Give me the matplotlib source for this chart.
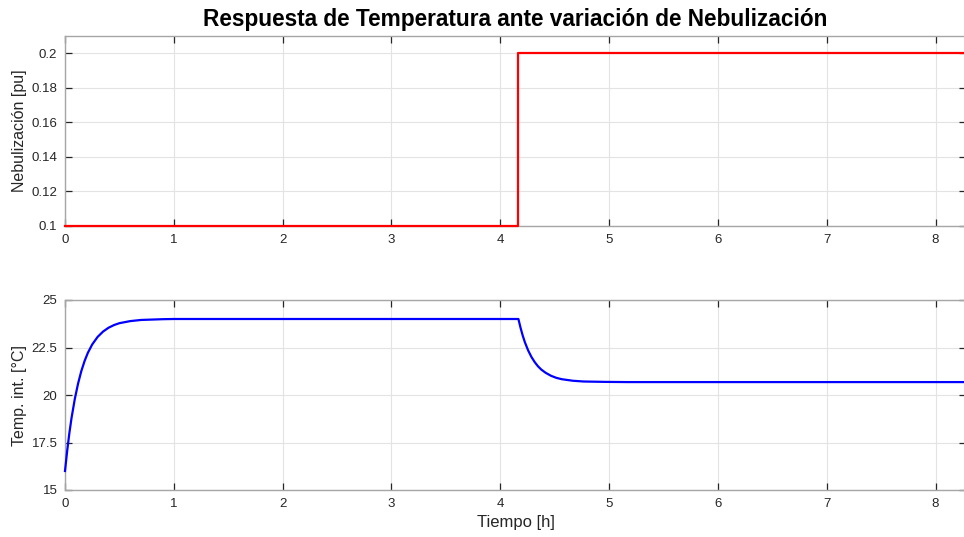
import matplotlib.pyplot as plt

plt.rcParams['font.family'] = ['Liberation Sans', 'DejaVu Sans']

# Nebulization setpoint [pu] vs time [h] (step at 250 min)
t_neb = [0.0, 4.1667, 8.3333]
neb = [0.1, 0.2, 0.2]

# Interior temperature [degC] vs time [h]
t_temp = [0.00, 0.02, 0.04, 0.06, 0.09, 0.12, 0.15, 0.18, 0.21, 0.25,
          0.30, 0.35, 0.40, 0.45, 0.50, 0.60, 0.70, 0.80, 0.90, 1.00,
          4.1667, 4.1867, 4.2067, 4.2267, 4.2567, 4.2867, 4.3167, 4.3467,
          4.3767, 4.4167, 4.4667, 4.5167, 4.5667, 4.6667, 4.7667, 4.8667,
          4.9667, 5.1667, 8.3333]
temp = [16.00, 17.06, 17.99, 18.79, 19.79, 20.60, 21.26, 21.79, 22.22, 22.66,
        23.06, 23.34, 23.54, 23.68, 23.78, 23.89, 23.95, 23.97, 23.99, 24.00,
        24.00, 23.53, 23.12, 22.77, 22.34, 22.00, 21.73, 21.51,
        21.34, 21.17, 21.01, 20.90, 20.83, 20.75, 20.71, 20.70,
        20.69, 20.68, 20.68]

x_ticks = list(range(0, 9))
neb_ticks = [0.1, 0.12, 0.14, 0.16, 0.18, 0.2]
neb_labels = ['0.1', '0.12', '0.14', '0.16', '0.18', '0.2']
temp_ticks = [15, 17.5, 20, 22.5, 25]
temp_labels = ['15', '17.5', '20', '22.5', '25']

X_MAX = 8.28
TXT = '#262626'


def style_axes(ax):
    for sp in ax.spines.values():
        sp.set_color('#a6a6a6')
        sp.set_linewidth(1.0)
    ax.tick_params(direction='in', length=5, width=0.9, color=TXT,
                   labelcolor=TXT, labelsize=9.5, top=True, right=True)
    ax.tick_params(axis='x', pad=6)
    ax.tick_params(axis='y', pad=5.5)
    ax.grid(True, color='#e3e3e3', linewidth=0.8)
    ax.set_axisbelow(True)
    ax.set_xlim(0, X_MAX)
    ax.set_xticks(x_ticks)


fig = plt.figure(figsize=(9.64, 5.37), dpi=100)
W, H = 964, 537
left = 65 / W
width = 901 / W

ax1 = fig.add_axes([left, 1 - 226 / H, width, 190 / H])
ax2 = fig.add_axes([left, 1 - 490 / H, width, 190 / H])

style_axes(ax1)
ax1.plot(t_neb, neb, color='#ff0000', linewidth=1.6, drawstyle='steps-post',
         zorder=5, clip_on=False)
ax1.set_ylim(0.1, 0.21)
ax1.set_yticks(neb_ticks)
ax1.set_yticklabels(neb_labels)
ax1.set_ylabel('Nebulización [pu]', fontsize=11.5, color=TXT, labelpad=3)
ax1.set_title('Respuesta de Temperatura ante variación de Nebulización',
              fontsize=16.3, fontweight='bold', color='black', pad=7)

style_axes(ax2)
ax2.plot(t_temp, temp, color='#0000ff', linewidth=1.6, zorder=5, clip_on=False)
ax2.set_ylim(15, 25)
ax2.set_yticks(temp_ticks)
ax2.set_yticklabels(temp_labels)
ax2.set_ylabel('Temp. int. [°C]', fontsize=11.5, color=TXT, labelpad=3)
ax2.set_xlabel('Tiempo [h]', fontsize=12, color=TXT, labelpad=3)

fig.savefig('out.png', dpi=100, facecolor='white')
